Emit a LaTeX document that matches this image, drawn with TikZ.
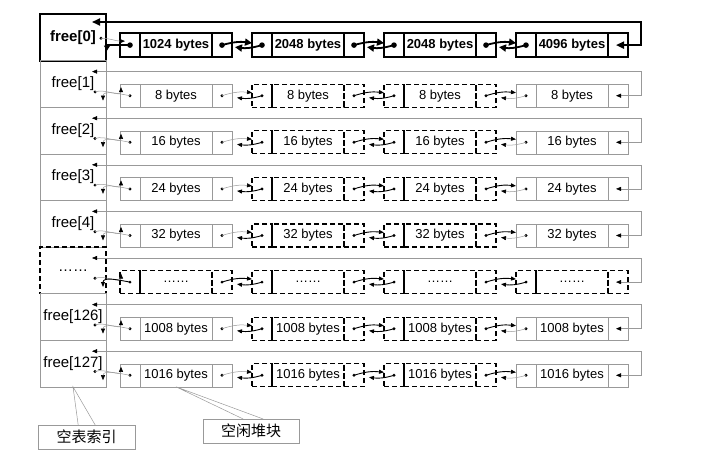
\documentclass[tikz,border=0pt]{standalone}
\usepackage{fontspec}
\setmainfont{Liberation Sans}
\newfontfamily\cjk{Noto Sans CJK SC}
\usetikzlibrary{positioning, arrows.meta}

\tikzset{
  slot/.style={draw=black!40, minimum width=66pt, minimum height=46.6pt,
    inner sep=0pt, outer sep=0pt, font=\fontsize{15}{17}\selectfont},
  cell/.style={draw=black!40, minimum height=23pt, inner sep=0pt, outer sep=0pt,
    font=\fontsize{13}{15}\selectfont},
  ptr/.style={cell, minimum width=20pt},
  dat/.style={cell, minimum width=72pt},
  plain/.style={},
  hole/.style={draw=black, line width=1.3pt, dash pattern=on 5pt off 3pt},
  busy/.style={draw=black, line width=1.8pt, minimum height=24pt},
  plain-slot/.style={},
  hole-slot/.style={hole},
  plain-link/.style={draw=black!40, line width=0.5pt, -{Triangle[length=5pt, width=4pt, black]}},
  hole-link/.style={draw=black, line width=0.9pt, -{Triangle[length=5pt, width=4pt]}},
  busy-link/.style={draw=black, line width=1.8pt, -{Triangle[length=7pt, width=7pt]}},
  ring/.style={draw=black!40, line width=0.5pt,
    {Triangle[length=5pt, width=4pt, black]}-{Triangle[length=5pt, width=4pt, black]}},
  busy-ring/.style={draw=black, line width=1.8pt,
    {Triangle[length=8pt, width=7pt]}-{Triangle[length=8pt, width=7pt]}},
  tag/.style={draw=black!40, inner sep=0pt, minimum height=24pt,
    font=\cjk\fontsize{15}{17}\selectfont},
  callout/.style={draw=black!40, line width=0.5pt}
}

\begin{document}
\begin{tikzpicture}[x=1pt, y=-1pt, node distance=0pt]
\useasboundingbox (0,0) rectangle (704,455);

% free[0]: the bold list
\node[slot, busy, minimum height=46.6pt, anchor=north west,
  font=\fontsize{15}{17}\bfseries\selectfont] (f0) at (40,14) {free[0]};
\node[ptr, busy, anchor=south west] (c0-1-l) at ([xshift=14pt,yshift=3.5pt]f0.south east) {};
\node[dat, busy, right=of c0-1-l, font=\fontsize{13}{15}\bfseries\selectfont] (c0-1-m) {1024 bytes};
\node[ptr, busy, right=of c0-1-m] (c0-1-r) {};
\foreach \k/\sz [count=\j from 1] in {2/2048 bytes, 3/2048 bytes, 4/4096 bytes}{
  \node[ptr, busy, right=20pt of c0-\j-r] (c0-\k-l) {};
  \node[dat, busy, right=of c0-\k-l, font=\fontsize{13}{15}\bfseries\selectfont] (c0-\k-m) {\sz};
  \node[ptr, busy, right=of c0-\k-m] (c0-\k-r) {};
}
\coordinate (f0-p) at ([xshift=-5pt,yshift=-1pt]f0.east);
\coordinate (t0) at ([xshift=52pt,yshift=-8pt]f0.north west);
\fill (f0-p) circle (1.6pt);
\foreach \k in {1,2,3,4}
  \fill (c0-\k-l.center) circle (2.8pt);
\foreach \k [count=\n from 2] in {1,2,3}{
  \fill (c0-\k-r.center) circle (2.8pt);
  \draw[busy-link] (c0-\k-r.center) to[bend left=12] ([yshift=2pt]c0-\n-l.west);
}
\foreach \k [count=\n from 1] in {2,3,4}
  \draw[busy-link] (c0-\k-l.center) to[bend left=12] ([xshift=3pt,yshift=-2pt]c0-\n-r.east);
\draw[plain-link] (f0-p) to[out=0,in=180] ([xshift=5pt,yshift=4pt]c0-1-l.west);
\draw[busy-link, -{Triangle[length=5pt, width=6pt]}] (c0-1-l.center) -| ([xshift=1pt,yshift=10pt]f0.south east);
\draw[busy-ring] ([xshift=-2pt]c0-4-r.center) -- ([xshift=13pt]c0-4-r.east) |- (t0);

% free[1] ... free[127]
\foreach \row/\lab/\sz/\kind [count=\p from 0] in {1/free[1]/8 bytes/plain,
    2/free[2]/16 bytes/plain, 3/free[3]/24 bytes/plain, 4/free[4]/32 bytes/plain,
    5/{……}/{……}/hole, 6/free[126]/1008 bytes/plain, 7/free[127]/1016 bytes/plain}{
  \node[slot, \kind-slot, below=of f\p] (f\row) {\lab};
  \node[ptr, \kind, anchor=south west] (c\row-1-l) at ([xshift=14pt]f\row.south east) {};
  \node[dat, \kind, right=of c\row-1-l] (c\row-1-m) {\sz};
  \node[ptr, \kind, right=of c\row-1-m] (c\row-1-r) {};
  \foreach \k/\st [count=\j from 1] in {2/hole, 3/hole, 4/\kind}{
    \node[ptr, \st, right=20pt of c\row-\j-r] (c\row-\k-l) {};
    \node[dat, \st, right=of c\row-\k-l] (c\row-\k-m) {\sz};
    \node[ptr, \st, right=of c\row-\k-m] (c\row-\k-r) {};
  }
  \coordinate (f\row-p) at ([xshift=-11pt,yshift=-8pt]f\row.east);
  \coordinate (t\row) at ([xshift=52pt,yshift=-11pt]f\row.north west);
  \fill (f\row-p) circle (1.6pt);
  \foreach \k in {1,2,3,4}
    \fill (c\row-\k-l.center) circle (1.6pt);
  \foreach \k/\st [count=\n from 2] in {1/\kind, 2/hole, 3/hole}{
    \fill (c\row-\k-r.center) circle (1.6pt);
    \draw[\st-link] (c\row-\k-r.center) to[bend left=12] ([yshift=3pt]c\row-\n-l.west);
  }
  \foreach \k/\st [count=\n from 1] in {2/hole, 3/hole, 4/\kind}
    \draw[\st-link] (c\row-\k-l.center) to[bend left=12] ([xshift=5pt,yshift=-2pt]c\row-\n-r.east);
  \draw[plain-link] (f\row-p) to[out=20,in=-90] ([xshift=1pt,yshift=-3pt]c\row-1-l.north west);
  \draw[\kind-link] (c\row-1-l.center) to[out=170,in=90] ([xshift=-3pt,yshift=6.6pt]f\row.south east);
  \draw[ring] ([xshift=-2pt]c\row-4-r.center) -- ([xshift=13pt]c\row-4-r.east) |- (t\row);
}

% captions
\node[tag, minimum width=97pt, anchor=north west] (k1) at (38,425) {空表索引};
\node[tag, minimum width=96pt, anchor=north west] (k2) at (203,419) {空闲堆块};
\draw[callout] ([xshift=-8.5pt]k1.north) -- (f7.south) -- ([xshift=8.5pt]k1.north);
\draw[callout] ([xshift=-8pt]k2.north) -- (c7-1-m.south) -- ([xshift=12pt]k2.north);
\end{tikzpicture}
\end{document}
